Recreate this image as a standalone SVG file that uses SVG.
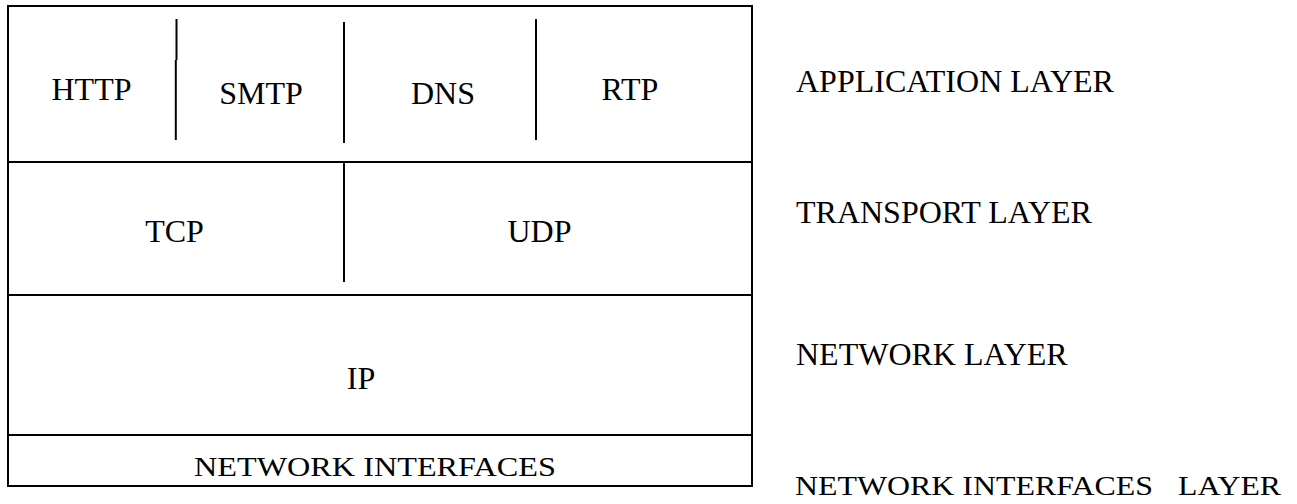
<svg xmlns="http://www.w3.org/2000/svg" width="1297" height="504" viewBox="0 0 1297 504">
<style>
.ln{stroke:#000;stroke-width:2;fill:none}
.t{font-family:"Liberation Serif","Times New Roman",serif;font-size:32px;fill:#000}
.m{text-anchor:middle}
.s{font-size:27px}
</style>
<rect width="1297" height="504" fill="#fff"/>
<g id="frame">
<rect class="ln" x="8" y="6" width="744" height="480"/>
</g>
<g id="connectors">
<line class="ln" x1="8" y1="162" x2="752" y2="162"/>
<line class="ln" x1="8" y1="295" x2="752" y2="295"/>
<line class="ln" x1="8" y1="435" x2="752" y2="435"/>
<line class="ln" x1="176.5" y1="19" x2="176.5" y2="60"/>
<line class="ln" x1="175.8" y1="60" x2="175.8" y2="140"/>
<line class="ln" x1="344" y1="22" x2="344" y2="143"/>
<line class="ln" x1="536" y1="19" x2="536" y2="140"/>
<line class="ln" x1="344" y1="162" x2="344" y2="282"/>
</g>
<g id="http"><text class="t m" x="91.5" y="100">HTTP</text></g>
<g id="smtp"><text class="t m" x="261" y="104">SMTP</text></g>
<g id="dns"><text class="t m" x="443" y="104">DNS</text></g>
<g id="rtp"><text class="t m" x="630" y="100">RTP</text></g>
<g id="tcp"><text class="t m" x="174.5" y="242">TCP</text></g>
<g id="udp"><text class="t m" x="539.5" y="242">UDP</text></g>
<g id="ip"><text class="t m" x="361" y="389">IP</text></g>
<g id="netif"><text class="t s" x="194" y="476" textLength="362" lengthAdjust="spacingAndGlyphs">NETWORK INTERFACES</text></g>
<g id="labels">
<text class="t" x="796" y="92">APPLICATION LAYER</text>
<text class="t" x="796" y="223">TRANSPORT LAYER</text>
<text class="t" x="796" y="365">NETWORK LAYER</text>
<text class="t s" y="495"><tspan x="795" textLength="358" lengthAdjust="spacingAndGlyphs">NETWORK INTERFACES</tspan><tspan x="1178" textLength="103" lengthAdjust="spacingAndGlyphs">LAYER</tspan></text>
</g>
</svg>
